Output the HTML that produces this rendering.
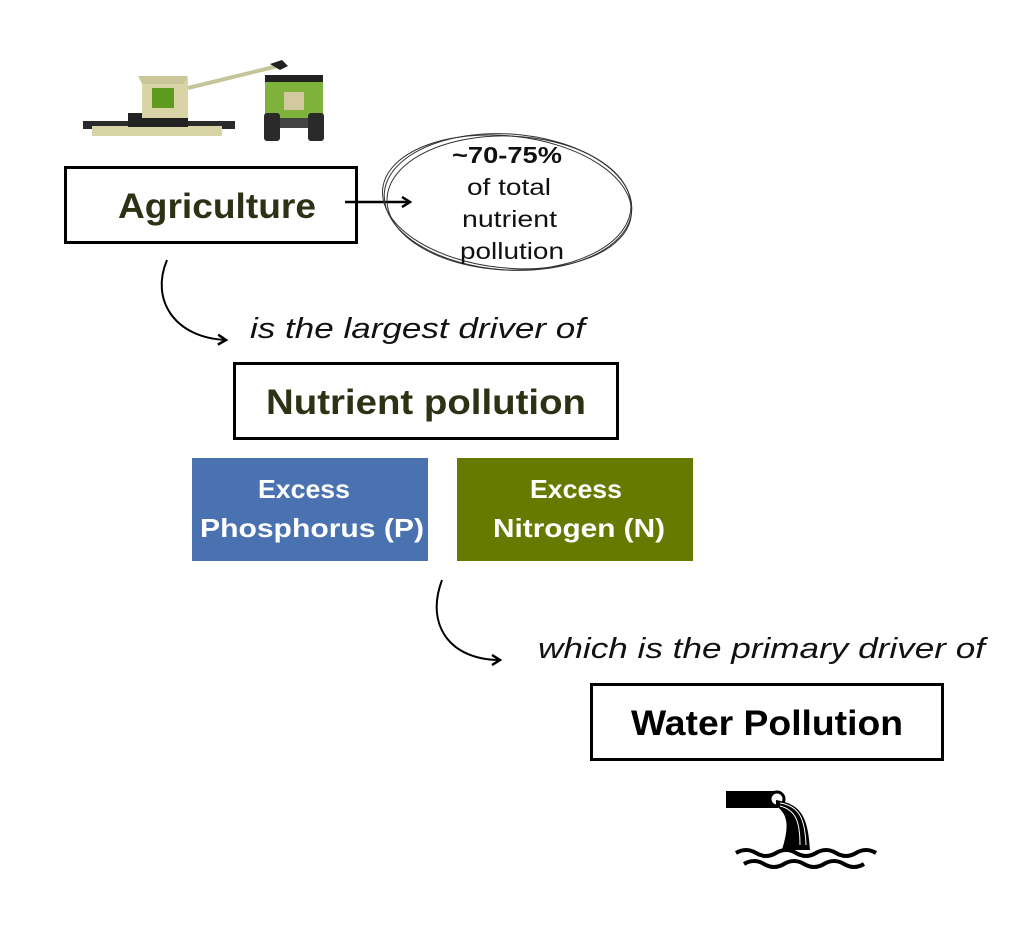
<!DOCTYPE html>
<html><head><meta charset="utf-8"><style>
html,body{margin:0;padding:0;background:#fff;}
svg{display:block;font-family:"Liberation Sans",sans-serif;}
</style></head><body>
<svg width="1024" height="929" viewBox="0 0 1024 929" xmlns="http://www.w3.org/2000/svg">
<defs><marker id="ah" markerWidth="12" markerHeight="12" refX="9" refY="6" orient="auto" markerUnits="userSpaceOnUse"><path d="M1,1 L9,6 L1,11" fill="none" stroke="#000" stroke-width="2.5"/></marker></defs>
<!-- harvester -->
<g>
<rect x="83" y="121" width="152" height="8" fill="#2a2a2a"/>
<rect x="92" y="126" width="130" height="10" fill="#d8d4a6"/>
<rect x="128" y="113" width="60" height="14" fill="#222"/>
<rect x="142" y="78" width="46" height="40" fill="#d8d4a6"/>
<polygon points="138,76 188,76 184,84 142,84" fill="#cbc79a"/>
<rect x="152" y="88" width="22" height="20" fill="#5d9a1e"/>
<line x1="188" y1="88" x2="278" y2="66" stroke="#c8c49a" stroke-width="4"/>
<path d="M270,64 l12,-4 l6,6 l-8,4z" fill="#222"/>
<rect x="265" y="75" width="58" height="8" fill="#222"/>
<rect x="265" y="82" width="58" height="38" fill="#7fb23a"/>
<rect x="284" y="92" width="20" height="18" fill="#d3c9a0"/>
<rect x="264" y="113" width="16" height="28" rx="3" fill="#2a2a2a"/>
<rect x="308" y="113" width="16" height="28" rx="3" fill="#2a2a2a"/>
<rect x="280" y="118" width="28" height="10" fill="#444"/>
</g>
<!-- Agriculture box -->
<rect x="65.5" y="167.5" width="291" height="75" fill="none" stroke="#000" stroke-width="3"/>
<text x="118" y="218" font-size="35" font-weight="bold" fill="#2c3214" textLength="198" lengthAdjust="spacingAndGlyphs">Agriculture</text>
<line x1="345" y1="202" x2="410" y2="202" stroke="#000" stroke-width="2.5" marker-end="url(#ah)"/>
<!-- ellipse -->
<g fill="none" stroke="#333" stroke-width="1">
<ellipse cx="508" cy="202" rx="124" ry="68" transform="rotate(4 508 202)"/>
<ellipse cx="509" cy="203" rx="122" ry="67" transform="rotate(2 508 202)"/>
<ellipse cx="507" cy="202" rx="125" ry="66" transform="rotate(6 508 202)"/>
</g>
<text x="452" y="163" font-size="23" font-weight="bold" fill="#111" textLength="110" lengthAdjust="spacingAndGlyphs">~70-75%</text>
<text x="467" y="195" font-size="23" fill="#111" textLength="84" lengthAdjust="spacingAndGlyphs">of total</text>
<text x="462" y="227" font-size="23" fill="#111" textLength="95" lengthAdjust="spacingAndGlyphs">nutrient</text>
<text x="460" y="259" font-size="23" fill="#111" textLength="104" lengthAdjust="spacingAndGlyphs">pollution</text>
<!-- curve 1 -->
<path d="M167,260 C150,300 175,338 226,340" fill="none" stroke="#000" stroke-width="2" marker-end="url(#ah)"/>
<text x="250" y="338" font-size="29" font-style="italic" fill="#111" textLength="335" lengthAdjust="spacingAndGlyphs">is the largest driver of</text>
<rect x="234.5" y="363.5" width="383" height="75" fill="none" stroke="#000" stroke-width="3"/>
<text x="266" y="414" font-size="35" font-weight="bold" fill="#2c3214" textLength="320" lengthAdjust="spacingAndGlyphs">Nutrient pollution</text>
<rect x="192" y="458" width="236" height="103" fill="#4a72b0"/>
<text x="258" y="498" font-size="26" font-weight="bold" fill="#fff" textLength="92" lengthAdjust="spacingAndGlyphs">Excess</text>
<text x="200" y="537" font-size="26" font-weight="bold" fill="#fff" textLength="224" lengthAdjust="spacingAndGlyphs">Phosphorus (P)</text>
<rect x="457" y="458" width="236" height="103" fill="#667a00"/>
<text x="530" y="498" font-size="26" font-weight="bold" fill="#fff" textLength="92" lengthAdjust="spacingAndGlyphs">Excess</text>
<text x="493" y="537" font-size="26" font-weight="bold" fill="#fff" textLength="172" lengthAdjust="spacingAndGlyphs">Nitrogen (N)</text>
<!-- curve 2 -->
<path d="M442,580 C425,625 450,660 500,660" fill="none" stroke="#000" stroke-width="2" marker-end="url(#ah)"/>
<text x="538" y="658" font-size="29" font-style="italic" fill="#111" textLength="447" lengthAdjust="spacingAndGlyphs">which is the primary driver of</text>
<rect x="591.5" y="684.5" width="351" height="75" fill="none" stroke="#000" stroke-width="3"/>
<text x="631" y="735" font-size="35" font-weight="bold" fill="#000" textLength="272" lengthAdjust="spacingAndGlyphs">Water Pollution</text>
<!-- pipe icon -->
<g>
<rect x="726" y="791" width="52" height="17" fill="#000"/>
<circle cx="777" cy="799" r="7" fill="#fff" stroke="#000" stroke-width="3"/>
<path d="M776,800 C800,804 808,815 810,850 L782,850 C788,830 790,815 776,806Z" fill="#000"/>
<path d="M780,806 C796,810 800,822 800,845 M780,803 C800,806 805,820 806,845" fill="none" stroke="#fff" stroke-width="1"/>
<path d="M736,853 q10,-6 20,0 t20,0 t20,0 t20,0 t20,0 t20,0 t20,0" fill="none" stroke="#000" stroke-width="4"/>
<path d="M744,864 q10,-6 20,0 t20,0 t20,0 t20,0 t20,0 t20,0" fill="none" stroke="#000" stroke-width="4"/>
</g>
</svg>
</body></html>
